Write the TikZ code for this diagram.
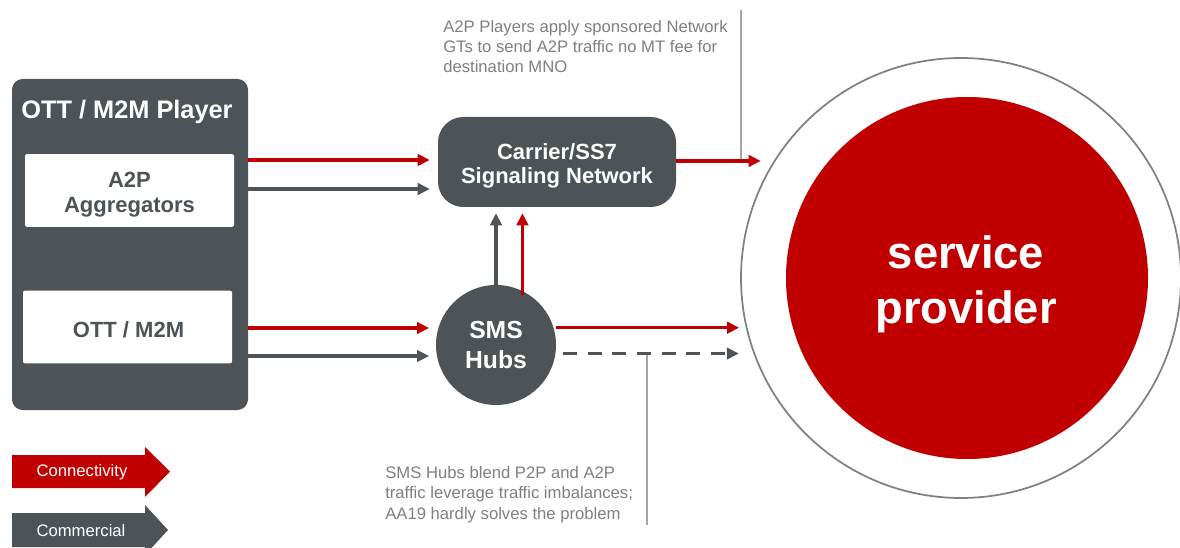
\documentclass[tikz,border=0pt]{standalone}
\usepackage{fontspec}
\setmainfont{Liberation Sans}
\usetikzlibrary{arrows.meta}
\definecolor{dkgrey}{RGB}{77,83,87}
\definecolor{spred}{RGB}{192,0,0}
\definecolor{notegrey}{RGB}{127,127,127}
\definecolor{notelinegrey}{RGB}{166,166,166}
\definecolor{ringgrey}{RGB}{128,128,128}
\begin{document}
\begin{tikzpicture}[x=0.75pt,y=-0.75pt,
  flowtip/.style={-{Triangle[length=9pt,width=8.5pt]}},
  redflow/.style={draw=spred, line width=2.4pt, flowtip},
  greyflow/.style={draw=dkgrey, line width=2.4pt, flowtip},
  playerbox/.style={fill=dkgrey, rounded corners=8pt, inner sep=0pt},
  whitebox/.style={fill=white, rounded corners=1.5pt, inner sep=0pt,
    minimum width=156.75pt, minimum height=54.5pt},
  boxtext/.style={align=center, inner sep=0pt, text=dkgrey, font=\fontsize{16.5}{18.75}\selectfont\bfseries},
  netbox/.style={fill=dkgrey, rounded corners=19pt, inner sep=0pt,
    minimum width=178.5pt, minimum height=67.5pt},
  nettext/.style={align=center, inner sep=0pt, text=white, font=\fontsize{16.5}{18}\selectfont\bfseries},
  hubcircle/.style={circle, fill=dkgrey, inner sep=0pt, minimum size=90pt, align=center,
    text=white, font=\fontsize{18.5}{22.5}\selectfont\bfseries},
  notetext/.style={anchor=north west, inner sep=0pt, align=left, text=notegrey},
  noteline/.style={draw=notelinegrey, line width=0.8pt},
  legendtext/.style={text=white, font=\fontsize{12.5}{15}\selectfont, inner sep=0pt}
]
\useasboundingbox (0,0) rectangle (1180,548);

% service provider
\node[circle, draw=ringgrey, line width=1.3pt, fill=white, minimum size=330pt, inner sep=0pt] (spout) at (961,278) {};
\node[circle, fill=spred, minimum size=271.5pt, inner sep=0pt] (sp) at (967,278) {};
\node[align=center, text=white, inner sep=0pt, font=\fontsize{34}{41}\selectfont\bfseries] (sptext) at ([shift={(-1,6)}]sp.center) {service\\provider};

% left player box
\node[playerbox, minimum width=177pt, minimum height=248.25pt] (player) at (130,244.5) {};
\node[text=white, font=\fontsize{19}{22}\selectfont\bfseries, inner sep=0pt] (playertitle) at (127,112) {OTT / M2M Player};
\node[whitebox] (a2p) at (129.5,190.5) {};
\node[boxtext] (a2ptext) at ([shift={(0,4)}]a2p.center) {A2P\\Aggregators};
\node[whitebox] (ott) at (127.5,327) {};
\node[boxtext] (otttext) at ([shift={(1,2.5)}]ott.center) {OTT / M2M};

% network and hubs
\node[netbox] (carrier) at (557,162) {};
\node[nettext] (carriertext) at ([shift={(0,3.5)}]carrier.center) {Carrier/SS7\\Signaling Network};
\node[hubcircle] (hubs) at (496,345) {SMS\\Hubs};

% notes
\node[notetext, font=\fontsize{12.5}{15}\selectfont] (note1) at (443,20) {A2P Players apply sponsored Network\\GTs to send A2P traffic no MT fee for\\destination MNO};
\node[notetext, font=\fontsize{12.5}{15.4}\selectfont] (note2) at (385,466) {SMS Hubs blend P2P and A2P\\traffic leverage traffic imbalances;\\AA19 hardly solves the problem};
\coordinate (note1top) at (741,10);
\coordinate (note2bot) at (647,525);
\draw[noteline] (note1top) -- (note1top |- spout.148);
\draw[noteline] (note2bot) -- (note2bot |- spout.200.5);

% flows from player
\draw[redflow, shorten >=6pt] (player.east |- 0,160) -- (carrier.west |- 0,160);
\draw[greyflow, shorten >=6pt] (player.east |- 0,189) -- (carrier.west |- 0,189);
\draw[redflow, shorten >=5pt] (player.east |- 0,328) -- (hubs.west |- 0,328);
\draw[greyflow, shorten >=5pt] (player.east |- 0,356) -- (hubs.west |- 0,356);

% hubs to carrier
\draw[greyflow, shorten >=4.5pt] (hubs.north) -- (hubs.north |- carrier.south);
\draw[redflow, shorten >=4.5pt, shorten <=-3pt] (hubs.64) -- (hubs.64 |- carrier.south);

% to service provider
\draw[redflow, shorten >=9.75pt] (carrier.east |- spout.148) -- (spout.148);
\draw[redflow, shorten >=5pt] (hubs.east |- spout.193) -- (spout.193);
\draw[greyflow, dash pattern=on 10.5pt off 8pt, shorten <=5pt, shorten >=11pt] (hubs.east |- spout.200.5) -- (spout.200.5);

% legend
\fill[spred] (12,455) -- (145,455) -- (145,447) -- (170,471.5) -- (145,497) -- (145,488) -- (12,488) -- cycle;
\node[legendtext] (legconn) at (82,472) {Connectivity};
\fill[dkgrey] (12,513) -- (145,513) -- (145,505) -- (168,530) -- (145,555) -- (145,547) -- (12,547) -- cycle;
\node[legendtext] (legcomm) at (81,531) {Commercial};
\end{tikzpicture}
\end{document}
